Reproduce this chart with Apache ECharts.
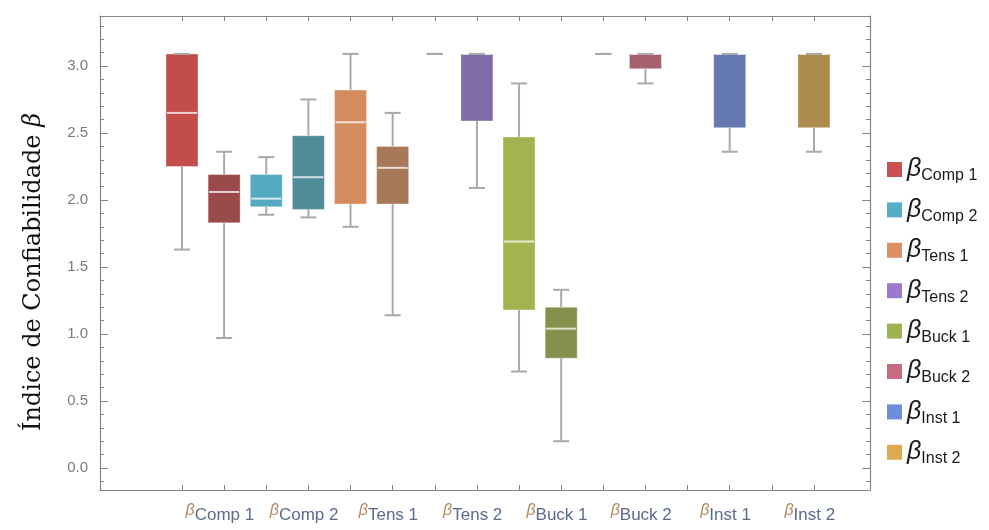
<!DOCTYPE html>
<html>
<head>
<meta charset="utf-8">
<script src="https://cdn.jsdelivr.net/npm/echarts@6/dist/echarts.min.js"></script>
<style>html,body{margin:0;padding:0;background:#fff}#c{width:989px;height:530px}</style>
</head>
<body>
<div id="c"></div>
<script>
// ---- data ----
const groups = ['Comp 1', 'Comp 2', 'Tens 1', 'Tens 2', 'Buck 1', 'Buck 2', 'Inst 1', 'Inst 2'];
// first box of each group: [min, Q1, median, Q3, max] (null = no box)
const setA = [
  [1.63, 2.25, 2.65, 3.09, 3.09],
  [1.89, 1.95, 2.01, 2.19, 2.32],
  [1.80, 1.97, 2.58, 2.82, 3.09],
  [3.09, 3.09, 3.09, 3.09, 3.09],
  [0.72, 1.18, 1.69, 2.47, 2.87],
  [3.09, 3.09, 3.09, 3.09, 3.09],
  null,
  null
];
// second box of each group
const setB = [
  [0.97, 1.83, 2.06, 2.19, 2.36],
  [1.87, 1.93, 2.17, 2.48, 2.75],
  [1.14, 1.97, 2.24, 2.40, 2.65],
  [2.09, 2.59, 3.09, 3.09, 3.09],
  [0.20, 0.82, 1.04, 1.20, 1.33],
  [2.87, 2.98, 3.09, 3.09, 3.09],
  [2.36, 2.54, 3.09, 3.09, 3.09],
  [2.36, 2.54, 3.09, 3.09, 3.09]
];
const yMajorTicks = [0, 0.5, 1.0, 1.5, 2.0, 2.5, 3.0];
const yMinorTicks = [-0.1, 0.1, 0.2, 0.3, 0.4, 0.6, 0.7, 0.8, 0.9, 1.1, 1.2, 1.3, 1.4,
  1.6, 1.7, 1.8, 1.9, 2.1, 2.2, 2.3, 2.4, 2.6, 2.7, 2.8, 2.9, 3.1, 3.2, 3.3];
const slotTicks = [1, 2, 3, 4, 5, 6, 7, 8, 9, 10, 11, 12, 13, 14, 15, 16];

// ---- styles ----
const legendColors = ['#c8514f', '#55aec3', '#de9064', '#9b79cb', '#9db350', '#c66b80', '#6c8edb', '#dcaa50'];
const colorsA = ['#c34d4b', '#55aabf', '#d48b5e', '#9b79cb', '#a2b34f', '#c66b80', '#6c8edb', '#dcaa50'];
const colorsB = ['#9b4a4b', '#508c97', '#a87858', '#7f6ba7', '#84914d', '#a6616f', '#6479b1', '#ad8a4d'];
const frameColor = '#858585';
const BOX_W = 0.76, CAP_W = 0.38;

const labelPos = groups.map((g, i) => 2 * (i + 1) - 0.1);

function renderItem(params, api) {
  const x = api.value(0);
  const mn = api.value(1), q1 = api.value(2), md = api.value(3), q3 = api.value(4), mx = api.value(5);
  const color = api.value(6) === 0 ? colorsA[params.seriesIndex] : colorsB[params.seriesIndex];
  const w = api.size([BOX_W, 0])[0];
  const cw = api.size([CAP_W, 0])[0];
  const pMin = api.coord([x, mn]), pQ1 = api.coord([x, q1]), pMd = api.coord([x, md]);
  const pQ3 = api.coord([x, q3]), pMax = api.coord([x, mx]);
  const cx = pMin[0];
  const children = [];
  const wh = { stroke: '#a9a9a9', lineWidth: 2 };
  if (pMin[1] - pQ1[1] > 0.5) {
    children.push({ type: 'line', shape: { x1: cx, y1: pQ1[1], x2: cx, y2: pMin[1] }, style: wh });
  }
  if (pQ3[1] - pMax[1] > 0.5) {
    children.push({ type: 'line', shape: { x1: cx, y1: pMax[1], x2: cx, y2: pQ3[1] }, style: wh });
  }
  if (pQ1[1] - pQ3[1] > 0.5) {
    children.push({ type: 'rect', shape: { x: cx - w / 2, y: pQ3[1], width: w, height: pQ1[1] - pQ3[1] },
      style: { fill: color, stroke: 'rgba(255,255,255,0.35)', lineWidth: 1 } });
    children.push({ type: 'line', shape: { x1: cx - w / 2 + 1, y1: pMd[1], x2: cx + w / 2 - 1, y2: pMd[1] },
      style: { stroke: 'rgba(255,255,255,0.75)', lineWidth: 2 } });
  }
  children.push({ type: 'line', shape: { x1: cx - cw / 2, y1: pMin[1], x2: cx + cw / 2, y2: pMin[1] }, style: wh });
  children.push({ type: 'line', shape: { x1: cx - cw / 2, y1: pMax[1], x2: cx + cw / 2, y2: pMax[1] }, style: wh });
  return { type: 'group', children: children };
}

const series = groups.map((g, i) => {
  const data = [];
  if (setA[i]) data.push([2 * i + 1].concat(setA[i], [0]));
  if (setB[i]) data.push([2 * i + 2].concat(setB[i], [1]));
  return {
    name: g,
    type: 'custom',
    xAxisIndex: 0,
    yAxisIndex: 0,
    itemStyle: { color: legendColors[i] },
    encode: { x: 0, y: [1, 2, 3, 4, 5] },
    renderItem: renderItem,
    data: data
  };
});

const X_MIN = -0.946, X_MAX = 17.33, Y_MIN = -0.164, Y_MAX = 3.373;
const tickStyle = { lineStyle: { color: frameColor, width: 1 } };

function yAx(pos, ticks, len, showLine, showLabel) {
  return {
    type: 'value', position: pos, min: Y_MIN, max: Y_MAX,
    axisLine: { show: showLine, onZero: false, lineStyle: { color: frameColor, width: 1.2 } },
    axisTick: Object.assign({ show: true, inside: true, length: len, customValues: ticks }, tickStyle),
    axisLabel: showLabel ? {
      show: true, customValues: yMajorTicks, margin: 12,
      formatter: v => v.toFixed(1),
      color: '#7a7a86', fontSize: 15, fontFamily: 'Liberation Sans'
    } : { show: false },
    splitLine: { show: false }
  };
}

const richSmall = {
  b: { fontSize: 16, fontStyle: 'italic', fontFamily: 'Liberation Sans', color: '#b48a5e', lineHeight: 21, verticalAlign: 'top' },
  s: { fontSize: 17, fontFamily: 'Liberation Sans', color: '#5a6b8e', lineHeight: 13, verticalAlign: 'bottom' }
};

const option = {
  animation: false,
  grid: { left: 100, right: 119, top: 16, bottom: 40, containLabel: false },
  xAxis: [
    {
      type: 'value', position: 'bottom', min: X_MIN, max: X_MAX,
      axisLine: { show: true, onZero: false, lineStyle: { color: frameColor, width: 1.2 } },
      axisTick: Object.assign({ show: true, inside: true, length: 5, customValues: slotTicks }, tickStyle),
      axisLabel: {
        show: true, customValues: labelPos, margin: 13,
        formatter: v => '{b|β}{s|' + groups[Math.round((v + 0.1) / 2) - 1] + '}',
        rich: richSmall
      },
      splitLine: { show: false }
    },
    {
      type: 'value', position: 'top', min: X_MIN, max: X_MAX,
      axisLine: { show: true, onZero: false, lineStyle: { color: frameColor, width: 1.2 } },
      axisTick: Object.assign({ show: true, inside: true, length: 5, customValues: slotTicks }, tickStyle),
      axisLabel: { show: false },
      splitLine: { show: false }
    }
  ],
  yAxis: [
    Object.assign(yAx('left', yMajorTicks, 8, true, true), {
      name: '{n|Índice de Confiabilidade }{b|β}',
      nameLocation: 'middle', nameGap: 54,
      nameTextStyle: {
        padding: [0, 38, 0, 0],
        rich: {
          n: { fontFamily: 'DejaVu Serif', fontSize: 24, color: '#111' },
          b: { fontFamily: 'DejaVu Serif', fontStyle: 'italic', fontSize: 24, color: '#111' }
        }
      }
    }),
    yAx('left', yMinorTicks, 4, false, false),
    yAx('right', yMajorTicks, 8, true, false),
    yAx('right', yMinorTicks, 4, false, false)
  ],
  legend: {
    orient: 'vertical', left: 882, top: 152,
    icon: 'rect', itemWidth: 15, itemHeight: 15, itemGap: 13.4,
    selectedMode: false,
    data: groups,
    formatter: name => '{b|β}{s|' + name + '}',
    textStyle: {
      rich: {
        b: { fontSize: 25, fontStyle: 'italic', fontFamily: 'Liberation Sans', color: '#1a1a1a', lineHeight: 29, verticalAlign: 'middle' },
        s: { fontSize: 16, fontFamily: 'Liberation Sans', color: '#1a1a1a', lineHeight: 14, verticalAlign: 'bottom' }
      }
    }
  },
  series: series
};

const chart = echarts.init(document.getElementById('c'), null, { renderer: 'canvas' });
chart.setOption(option);
</script>
</body>
</html>
